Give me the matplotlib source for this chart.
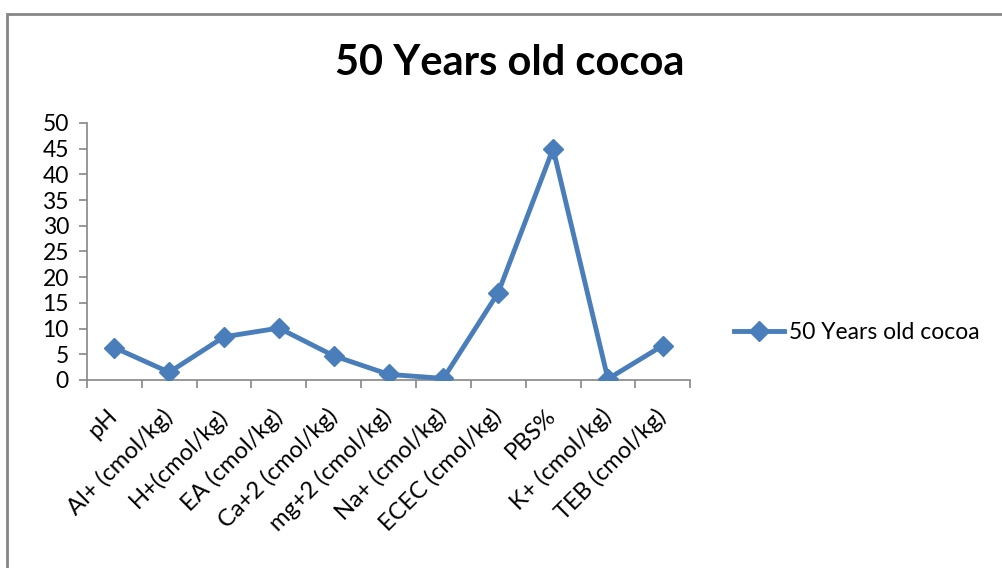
import matplotlib.pyplot as plt
from matplotlib.patches import Rectangle
from matplotlib.transforms import ScaledTranslation
import numpy as np

# Soil properties under 50 year old cocoa
categories = ["pH", "Al+ (cmol/kg)", "H+(cmol/kg)", "EA (cmol/kg)", "Ca+2 (cmol/kg)",
              "mg+2 (cmol/kg)", "Na+ (cmol/kg)", "ECEC (cmol/kg)", "PBS%",
              "K+ (cmol/kg)", "TEB (cmol/kg)"]
values = [6.3, 1.5, 8.4, 10.1, 4.7, 1.1, 0.3, 17.0, 45.0, 0.2, 6.7]
series_name = "50 Years old cocoa"

line_color = '#4A7EBB'
axis_color = '#868686'
font = 'Lato'

fig = plt.figure(figsize=(10.02, 5.68), dpi=100)
ax = fig.add_axes([0.0868, 0.331, 0.602, 0.4525])

x = np.arange(len(categories))
ax.plot(x, values, color=line_color, linewidth=3.5, marker='D', markersize=10,
        label=series_name)

# Axes styling in the spreadsheet look
ax.set_xlim(-0.5, len(categories) - 0.5)
ax.set_ylim(0, 50)
ax.set_yticks(np.arange(0, 51, 5))
ax.set_xticks(x)
ax.set_xticks(np.arange(-0.5, len(categories), 1), minor=True)
ax.set_xticklabels(categories, rotation=45, ha='right', rotation_mode='anchor',
                   fontsize=17, fontfamily=font)
ax.tick_params(axis='x', which='major', length=0, pad=18)
ax.tick_params(axis='x', which='minor', length=6, color=axis_color, width=1.2)
ax.tick_params(axis='y', length=6, color=axis_color, width=1.2, labelsize=16.5, pad=7)
# nudge the slanted labels a little to the left
shift = ScaledTranslation(-8 / 100, 0, fig.dpi_scale_trans)
for lbl in ax.get_xticklabels():
    lbl.set_transform(lbl.get_transform() + shift)
for lbl in ax.get_yticklabels():
    lbl.set_fontfamily(font)
for side in ['top', 'right']:
    ax.spines[side].set_visible(False)
for side in ['left', 'bottom']:
    ax.spines[side].set_color(axis_color)
    ax.spines[side].set_linewidth(1.2)
ax.spines['bottom'].set_zorder(1)

fig.text(0.509, 0.889, "50 Years old cocoa", ha='center', va='center',
         fontsize=30, fontweight='bold', fontfamily=font)

fig.legend(loc='center left', bbox_to_anchor=(0.712, 0.414), frameon=False,
           prop={'family': font, 'size': 16.5}, handlelength=2.2, handletextpad=0.2)

# Chart area frame
fig.patches.append(Rectangle((7 / 1002, -0.1), 1.2, 1 - 14 / 568 + 0.1,
                             transform=fig.transFigure, fill=False,
                             edgecolor=axis_color, linewidth=2))

fig.savefig('out.png', dpi=100)
